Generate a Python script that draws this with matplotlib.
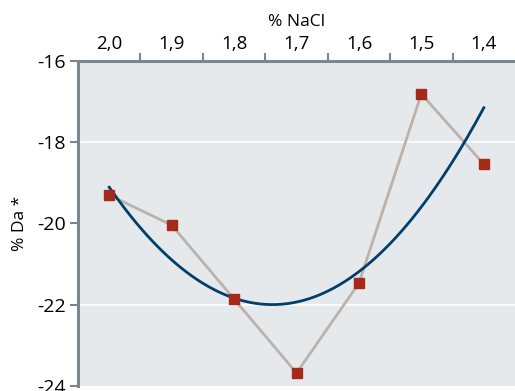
import numpy as np
import matplotlib
matplotlib.use("Agg")
import matplotlib.pyplot as plt

# salt level (categories, left to right) and measured colour change
nacl_labels = ["2,0", "1,9", "1,8", "1,7", "1,6", "1,5", "1,4"]
da_values = [-19.30, -20.04, -21.86, -23.68, -21.47, -16.81, -18.54]

plt.rcParams['font.family'] = ['Open Sans', 'DejaVu Sans']

BG = '#e6e9ec'
SPINE = '#7a8791'
TREND = '#003f6b'
LINK = '#bbb2ac'
MARK = '#a52a1a'

fig = plt.figure(figsize=(5.15, 3.91), dpi=100)
ax = fig.add_axes([0.1515, 0.0128, 0.8485, 0.8312])
ax.set_facecolor(BG)

x = np.arange(len(nacl_labels))

# second-order trend line through the measurements
coef = np.polyfit(x, da_values, 2)
xs = np.linspace(x[0], x[-1], 200)
ax.plot(xs, np.polyval(coef, xs), color=TREND, lw=2.0, zorder=3)

ax.plot(x, da_values, color=LINK, lw=2.0, zorder=2)
ax.plot(x, da_values, ls='none', marker='s', ms=7.5, color=MARK, zorder=4)

for g in (-18, -22):
    ax.axhline(g, color='white', lw=1.2, zorder=1)

ax.set_xlim(-0.5, len(nacl_labels) - 0.5)
ax.set_ylim(-24, -16)

# category labels centred, ticks on the boundaries
ax.xaxis.tick_top()
ax.xaxis.set_label_position('top')
ax.set_xticks(x[:-1] + 0.5)
ax.set_xticklabels([])
ax.set_xticks(x, minor=True)
ax.set_xticklabels(nacl_labels, minor=True)
ax.tick_params(axis='x', which='major', length=6, width=1.5, color=SPINE, top=True, bottom=False)
ax.tick_params(axis='x', which='minor', length=0, pad=6, labelsize=13.5, top=True, bottom=False)
ax.set_xlabel('% NaCl', fontsize=12.5, labelpad=6)

ax.set_yticks([-24, -22, -20, -18, -16])
ax.set_yticklabels(['-24', '-22', '-20', '-18', '-16'])
ax.tick_params(axis='y', length=6, width=1.5, color=SPINE, labelsize=14, pad=3)
ax.set_ylabel('% Da *', fontsize=12.5, labelpad=6)

for side in ('right', 'bottom'):
    ax.spines[side].set_visible(False)
for side in ('left', 'top'):
    ax.spines[side].set_color(SPINE)
    ax.spines[side].set_linewidth(2.2)

fig.savefig('out.png', dpi=100)
